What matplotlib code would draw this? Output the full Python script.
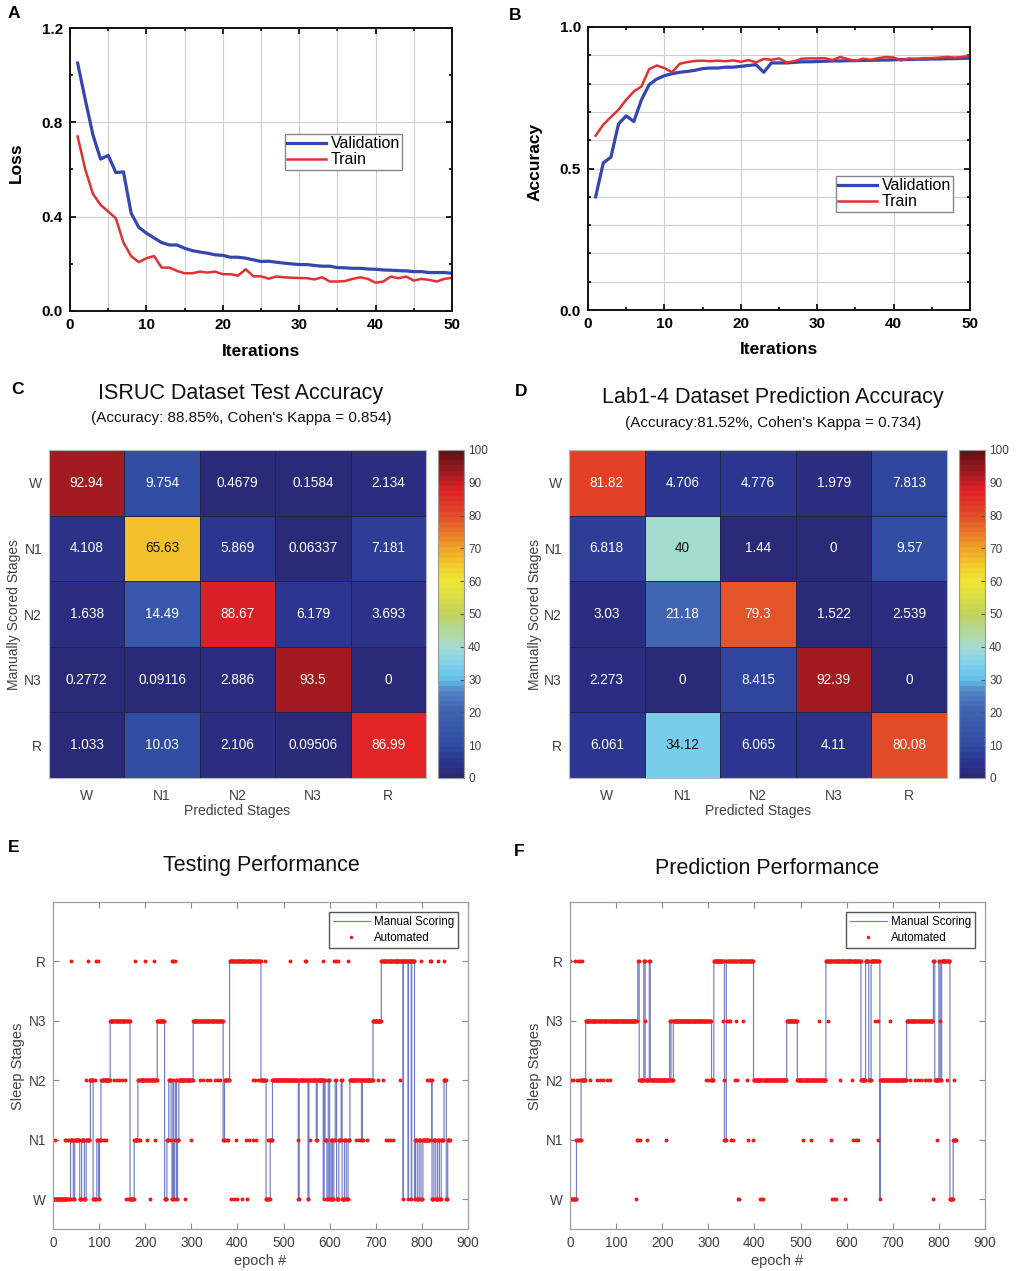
import numpy as np
import matplotlib
matplotlib.use("Agg")
import matplotlib.pyplot as plt
from matplotlib.colors import LinearSegmentedColormap
from matplotlib.ticker import MultipleLocator, FormatStrFormatter

plt.rcParams['font.family'] = ['Liberation Sans', 'DejaVu Sans']

FIG_W, FIG_H, DPI = 1016, 1271, 100

# ---------------- training curves (per iteration) ----------------
loss_val = [1.051, 0.896, 0.747, 0.644, 0.660, 0.587, 0.590, 0.415, 0.355, 0.330,
            0.310, 0.290, 0.280, 0.280, 0.266, 0.256, 0.250, 0.245, 0.238, 0.236,
            0.228, 0.228, 0.224, 0.217, 0.210, 0.211, 0.207, 0.203, 0.200, 0.197,
            0.197, 0.193, 0.190, 0.190, 0.184, 0.183, 0.181, 0.181, 0.178, 0.177,
            0.174, 0.173, 0.171, 0.170, 0.167, 0.167, 0.163, 0.163, 0.163, 0.160]
loss_train = [0.740, 0.600, 0.497, 0.450, 0.422, 0.393, 0.290, 0.233, 0.207, 0.224,
              0.233, 0.184, 0.184, 0.170, 0.160, 0.160, 0.167, 0.163, 0.167, 0.156,
              0.156, 0.150, 0.177, 0.147, 0.147, 0.137, 0.146, 0.143, 0.141, 0.140,
              0.139, 0.134, 0.143, 0.125, 0.125, 0.127, 0.136, 0.143, 0.136, 0.120,
              0.125, 0.146, 0.139, 0.146, 0.129, 0.136, 0.132, 0.125, 0.136, 0.141]
acc_val = [0.400, 0.520, 0.540, 0.658, 0.686, 0.666, 0.743, 0.796, 0.816, 0.828,
           0.835, 0.840, 0.843, 0.847, 0.853, 0.855, 0.855, 0.858, 0.858, 0.861,
           0.864, 0.867, 0.840, 0.873, 0.873, 0.873, 0.875, 0.877, 0.877, 0.878,
           0.879, 0.880, 0.880, 0.881, 0.881, 0.882, 0.882, 0.883, 0.883, 0.884,
           0.885, 0.885, 0.886, 0.886, 0.887, 0.887, 0.888, 0.888, 0.889, 0.890]
acc_train = [0.616, 0.655, 0.682, 0.708, 0.743, 0.772, 0.790, 0.851, 0.864, 0.855,
             0.840, 0.870, 0.876, 0.880, 0.881, 0.879, 0.881, 0.879, 0.882, 0.877,
             0.883, 0.875, 0.887, 0.884, 0.889, 0.875, 0.879, 0.888, 0.889, 0.889,
             0.890, 0.883, 0.894, 0.887, 0.880, 0.888, 0.884, 0.890, 0.894, 0.892,
             0.882, 0.889, 0.887, 0.890, 0.890, 0.892, 0.894, 0.892, 0.894, 0.899]

# ---------------- confusion matrices (%) ----------------
stages = ['W', 'N1', 'N2', 'N3', 'R']
isruc_cm = [[92.94, 9.754, 0.4679, 0.1584, 2.134],
            [4.108, 65.63, 5.869, 0.06337, 7.181],
            [1.638, 14.49, 88.67, 6.179, 3.693],
            [0.2772, 0.09116, 2.886, 93.5, 0],
            [1.033, 10.03, 2.106, 0.09506, 86.99]]
lab_cm = [[81.82, 4.706, 4.776, 1.979, 7.813],
          [6.818, 40, 1.44, 0, 9.57],
          [3.03, 21.18, 79.3, 1.522, 2.539],
          [2.273, 0, 8.415, 92.39, 0],
          [6.061, 34.12, 6.065, 4.11, 80.08]]

# ---------------- hypnograms: (start epoch, stage) change points ----------------
test_n_epochs = 861
test_manual = [(0, 'W'), (38, 'N1'), (44, 'W'), (47, 'N1'), (58, 'W'), (62, 'N1'), (68, 'W'),
               (72, 'N1'), (81, 'N2'), (87, 'W'), (95, 'N1'), (99, 'W'), (101, 'N1'), (104, 'N2'),
               (124, 'N3'), (167, 'W'), (176, 'N1'), (184, 'N2'), (226, 'N3'), (242, 'W'),
               (247, 'N1'), (251, 'N2'), (256, 'N1'), (258, 'W'), (260, 'N2'), (262, 'W'),
               (264, 'N1'), (266, 'N2'), (268, 'W'), (270, 'N1'), (273, 'N2'), (304, 'N3'),
               (369, 'N1'), (372, 'N2'), (383, 'R'), (451, 'N2'), (462, 'W'), (471, 'N1'),
               (476, 'N2'), (532, 'W'), (534, 'N2'), (553, 'W'), (555, 'N2'), (571, 'N1'),
               (573, 'N2'), (586, 'W'), (588, 'N2'), (590, 'N1'), (594, 'W'), (597, 'N2'),
               (600, 'W'), (603, 'N1'), (606, 'W'), (609, 'N1'), (612, 'N2'), (615, 'W'),
               (620, 'N1'), (625, 'N2'), (627, 'W'), (632, 'N1'), (636, 'W'), (640, 'N1'),
               (644, 'N2'), (669, 'N1'), (671, 'N2'), (694, 'N3'), (712, 'R'), (759, 'W'),
               (760, 'R'), (770, 'W'), (771, 'R'), (777, 'W'), (778, 'R'), (784, 'W'),
               (786, 'N1'), (790, 'W'), (794, 'N1'), (798, 'W'), (802, 'N1'), (821, 'N2'),
               (822, 'W'), (826, 'N1'), (830, 'W'), (834, 'N1'), (838, 'W'), (842, 'N1'),
               (848, 'N2'), (853, 'W'), (856, 'N1')]
# epochs where the automated scorer disagrees with the manual score
test_auto_diff = [(38, 'R'), (76, 'R'), (94, 'R'), (97, 'R'), (177, 'R'), (199, 'R'), (219, 'R'),
                  (257, 'R'), (261, 'R'), (264, 'R'), (459, 'R'), (513, 'R'), (546, 'R'), (549, 'R'),
                  (586, 'R'), (610, 'R'), (614, 'R'), (618, 'R'), (640, 'R'), (799, 'R'),
                  (817, 'R'), (820, 'R'), (835, 'R'), (847, 'R'),
                  (71, 'N2'), (80, 'N2'), (84, 'N2'), (90, 'N2'), (132, 'N2'), (138, 'N2'),
                  (144, 'N2'), (150, 'N2'), (156, 'N2'), (318, 'N2'), (326, 'N2'), (333, 'N2'),
                  (340, 'N2'), (352, 'N2'), (358, 'N2'), (362, 'N2'), (434, 'N2'), (438, 'N2'),
                  (444, 'N2'), (448, 'N2'), (705, 'N2'), (716, 'N2'), (752, 'N2'), (810, 'N2'),
                  (815, 'N2'), (818, 'N2'),
                  (4, 'N1'), (25, 'N1'), (28, 'N1'), (32, 'N1'), (35, 'N1'), (105, 'N1'),
                  (110, 'N1'), (116, 'N1'), (186, 'N1'), (188, 'N1'), (203, 'N1'), (221, 'N1'),
                  (300, 'N1'), (374, 'N1'), (377, 'N1'), (380, 'N1'), (397, 'N1'), (419, 'N1'),
                  (426, 'N1'), (433, 'N1'), (441, 'N1'), (466, 'N1'), (469, 'N1'), (531, 'N1'),
                  (557, 'N1'), (658, 'N1'), (664, 'N1'), (672, 'N1'), (680, 'N1'), (723, 'N1'),
                  (727, 'N1'), (731, 'N1'), (737, 'N1'),
                  (159, 'W'), (163, 'W'), (210, 'W'), (286, 'W'), (385, 'W'), (393, 'W'),
                  (400, 'W'), (410, 'W'), (420, 'W')]

pred_n_epochs = 838
pred_manual = [(0, 'W'), (14, 'N1'), (24, 'N2'), (34, 'N3'), (147, 'R'), (150, 'N2'), (160, 'R'),
               (163, 'N2'), (172, 'R'), (174, 'N2'), (216, 'N3'), (219, 'N2'), (224, 'N3'),
               (307, 'N2'), (312, 'R'), (335, 'N1'), (339, 'R'), (398, 'N2'), (470, 'N3'),
               (493, 'N2'), (555, 'R'), (631, 'N2'), (641, 'R'), (648, 'N2'), (653, 'R'),
               (672, 'W'), (673, 'N2'), (730, 'N3'), (788, 'R'), (791, 'N2'), (800, 'R'),
               (803, 'N2'), (806, 'R'), (824, 'W'), (831, 'N1')]
pred_auto_diff = [(0, 'R'), (11, 'R'), (18, 'R'), (22, 'R'), (25, 'R'),
                  (2, 'N2'), (6, 'N2'), (16, 'N2'), (20, 'N2'), (43, 'N2'), (58, 'N2'),
                  (65, 'N2'), (72, 'N2'), (80, 'N2'), (87, 'N2'), (296, 'N2'), (300, 'N2'),
                  (305, 'N2'), (333, 'N2'), (358, 'N2'), (363, 'N2'), (383, 'N2'), (585, 'N2'),
                  (611, 'N2'), (737, 'N2'), (748, 'N2'), (755, 'N2'), (762, 'N2'), (770, 'N2'),
                  (776, 'N2'), (781, 'N2'), (817, 'N2'), (832, 'N2'),
                  (163, 'N3'), (331, 'N3'), (340, 'N3'), (344, 'N3'), (347, 'N3'), (361, 'N3'),
                  (376, 'N3'), (539, 'N3'), (560, 'N3'), (661, 'N3'), (668, 'N3'), (694, 'N3'),
                  (802, 'N3'),
                  (145, 'N1'), (148, 'N1'), (152, 'N1'), (166, 'N1'), (208, 'N1'), (350, 'N1'),
                  (354, 'N1'), (387, 'N1'), (396, 'N1'), (505, 'N1'), (523, 'N1'), (566, 'N1'),
                  (614, 'N1'), (620, 'N1'), (625, 'N1'), (669, 'N1'), (795, 'N1'), (835, 'N1'),
                  (144, 'W'), (365, 'W'), (367, 'W'), (412, 'W'), (416, 'W'), (419, 'W'),
                  (568, 'W'), (572, 'W'), (577, 'W'), (596, 'W'), (787, 'W')]

BLUE = '#3446b0'
RED = '#e03234'
GRID = '#cfcfcf'
GRAY_TXT = '#404040'

fig = plt.figure(figsize=(FIG_W / DPI, FIG_H / DPI), dpi=DPI)


def px_axes(left, top, right, bottom):
    return fig.add_axes([left / FIG_W, 1 - bottom / FIG_H,
                         (right - left) / FIG_W, (bottom - top) / FIG_H])


def fig_text(x, y, s, **kw):
    return fig.text(x / FIG_W, 1 - y / FIG_H, s, **kw)


# ---------------- A / B: training curves ----------------
def style_curve_axes(ax):
    for sp in ax.spines.values():
        sp.set_linewidth(1.4)
        sp.set_color('#111111')
    ax.tick_params(which='both', direction='in', top=True, right=True, width=1.2)
    ax.tick_params(which='major', length=4.5, pad=5, labelsize=11)
    ax.tick_params(which='minor', length=2.5)
    for lab in ax.get_xticklabels() + ax.get_yticklabels():
        lab.set_fontweight('bold')
    ax.set_axisbelow(True)


iters = np.arange(1, len(loss_val) + 1)

axA = px_axes(70, 28, 452, 311)
axA.plot(iters, loss_val, color=BLUE, lw=2.3, label='Validation')
axA.plot(iters, loss_train, color=RED, lw=1.8, label='Train')
axA.set_xlim(0, 50)
axA.set_ylim(0, 1.2)
axA.xaxis.set_major_locator(MultipleLocator(10))
axA.xaxis.set_minor_locator(MultipleLocator(5))
axA.yaxis.set_major_locator(MultipleLocator(0.4))
axA.yaxis.set_minor_locator(MultipleLocator(0.2))
axA.yaxis.set_major_formatter(FormatStrFormatter('%.1f'))
axA.grid(which='both', axis='x', color=GRID, lw=0.8)
axA.grid(which='major', axis='y', color=GRID, lw=0.8)
style_curve_axes(axA)
axA.legend(loc='upper left', bbox_to_anchor=(285 / FIG_W, 1 - 134 / FIG_H),
           bbox_transform=fig.transFigure, borderaxespad=0, fontsize=11.5,
           handlelength=2.4, handletextpad=0.3, borderpad=0.15, labelspacing=0.05,
           fancybox=False, edgecolor='#888888', framealpha=1)
fig_text(16, 163, 'Loss', rotation=90, ha='center', va='center', fontsize=12.5, fontweight='bold')
fig_text(261, 351, 'Iterations', ha='center', va='center', fontsize=12.5, fontweight='bold')

axB = px_axes(588, 27, 970, 310)
axB.plot(iters, acc_val, color=BLUE, lw=2.3, label='Validation')
axB.plot(iters, acc_train, color=RED, lw=1.8, label='Train')
axB.set_xlim(0, 50)
axB.set_ylim(0, 1.0)
axB.xaxis.set_major_locator(MultipleLocator(10))
axB.xaxis.set_minor_locator(MultipleLocator(5))
axB.yaxis.set_major_locator(MultipleLocator(0.5))
axB.yaxis.set_minor_locator(MultipleLocator(0.1))
axB.yaxis.set_major_formatter(FormatStrFormatter('%.1f'))
axB.grid(which='major', axis='x', color=GRID, lw=0.8)
axB.grid(which='both', axis='y', color=GRID, lw=0.8)
style_curve_axes(axB)
axB.legend(loc='upper left', bbox_to_anchor=(836 / FIG_W, 1 - 176 / FIG_H),
           bbox_transform=fig.transFigure, borderaxespad=0, fontsize=11.5,
           handlelength=2.4, handletextpad=0.3, borderpad=0.15, labelspacing=0.05,
           fancybox=False, edgecolor='#888888', framealpha=1)
fig_text(535, 162, 'Accuracy', rotation=90, ha='center', va='center', fontsize=12.5, fontweight='bold')
fig_text(779, 350, 'Iterations', ha='center', va='center', fontsize=12.5, fontweight='bold')

# ---------------- C / D: confusion matrices ----------------
cm_anchors = [
    (0, (42, 42, 120)), (5, (44, 55, 145)), (10, (50, 78, 165)), (20, (62, 98, 176)),
    (26, (80, 130, 195)), (30, (100, 195, 235)), (35, (130, 210, 235)), (40, (166, 220, 205)),
    (50, (192, 210, 92)), (60, (240, 230, 50)), (65, (242, 205, 45)), (70, (240, 165, 40)),
    (80, (226, 80, 40)), (88, (226, 34, 40)), (95, (145, 25, 30)), (100, (105, 15, 20))]
stage_cmap = LinearSegmentedColormap.from_list(
    'stage_map', [(v / 100, tuple(c / 255 for c in rgb)) for v, rgb in cm_anchors], N=64)


def draw_confusion(box, cbox, data, title, subtitle, title_x, title_y, sub_y, ylabel_x):
    ax = px_axes(*box)
    arr = np.array(data, dtype=float)
    mesh = ax.pcolormesh(arr, cmap=stage_cmap, vmin=0, vmax=100,
                         edgecolors='#23244e', linewidth=0.6)
    ax.set_xlim(0, 5)
    ax.set_ylim(5, 0)
    ax.set_xticks(np.arange(5) + 0.5)
    ax.set_yticks(np.arange(5) + 0.5)
    ax.set_xticklabels(stages)
    ax.set_yticklabels(stages)
    ax.tick_params(length=0, labelsize=10, labelcolor=GRAY_TXT)
    ax.tick_params(axis='x', pad=8)
    ax.tick_params(axis='y', pad=5)
    for sp in ax.spines.values():
        sp.set_color('#b8b8b8')
        sp.set_linewidth(0.8)
    for i in range(arr.shape[0]):
        for j in range(arr.shape[1]):
            r, g, b, _ = stage_cmap(arr[i, j] / 100)
            lum = 0.299 * r + 0.587 * g + 0.114 * b
            ax.text(j + 0.5, i + 0.5, f'{arr[i, j]:.4g}', ha='center', va='center',
                    fontsize=9.8, color='#111111' if lum > 0.55 else 'white')
    cax = px_axes(*cbox)
    cb = fig.colorbar(mesh, cax=cax, ticks=np.arange(0, 101, 10))
    cb.outline.set_edgecolor('#9a9a9a')
    cb.outline.set_linewidth(0.8)
    cax.tick_params(direction='in', length=3, color='#555555', labelsize=8.5,
                    labelcolor=GRAY_TXT, pad=3)
    cx = (box[0] + box[2]) / 2
    fig_text(title_x, title_y, title, ha='center', va='center', fontsize=15.5, color='#111111')
    fig_text(title_x, sub_y, subtitle, ha='center', va='center', fontsize=11, color='#111111')
    fig_text(cx, 811, 'Predicted Stages', ha='center', va='center', fontsize=10, color=GRAY_TXT)
    fig_text(ylabel_x, (box[1] + box[3]) / 2, 'Manually Scored Stages', rotation=90,
             ha='center', va='center', fontsize=10, color=GRAY_TXT)


draw_confusion((49, 450, 426, 778), (438, 450, 464, 778), isruc_cm,
               'ISRUC Dataset Test Accuracy', "(Accuracy: 88.85%, Cohen's Kappa = 0.854)",
               241, 393, 418, 14)
draw_confusion((569, 450, 947, 778), (959, 450, 985, 778), lab_cm,
               'Lab1-4 Dataset Prediction Accuracy', "(Accuracy:81.52%, Cohen's Kappa = 0.734)",
               773, 397, 423, 535)

# ---------------- E / F: hypnograms ----------------
stage_idx = {s: i for i, s in enumerate(stages)}


def expand(changes, n_epochs):
    y = np.empty(n_epochs)
    for k, (start, st) in enumerate(changes):
        end = changes[k + 1][0] if k + 1 < len(changes) else n_epochs
        y[start:end] = stage_idx[st]
    return y


def draw_hypnogram(box, changes, diffs, n_epochs, title, title_x, title_y, ylabel_x, legend_xy):
    ax = px_axes(*box)
    epochs = np.arange(n_epochs)
    manual = expand(changes, n_epochs)
    auto = manual.copy()
    for ep, st in diffs:
        auto[ep] = stage_idx[st]
    ax.plot(epochs, manual, drawstyle='steps-post', color='#4250b8', lw=0.85, alpha=0.75,
            label='Manual Scoring')
    ax.plot(epochs, auto, ls='none', marker='o', ms=2.8, mew=0, color='#f01818',
            label='Automated')
    ax.set_xlim(0, 900)
    ax.set_ylim(-0.5, 5)
    ax.xaxis.set_major_locator(MultipleLocator(100))
    ax.set_yticks(range(5))
    ax.set_yticklabels(stages)
    ax.tick_params(direction='in', top=True, right=True, length=4, color='#8a8a8a',
                   labelsize=9.8, labelcolor=GRAY_TXT, pad=5)
    for sp in ax.spines.values():
        sp.set_color('#a0a0a0')
        sp.set_linewidth(0.9)
    ax.legend(loc='upper left', bbox_to_anchor=(legend_xy[0] / FIG_W, 1 - legend_xy[1] / FIG_H),
              bbox_transform=fig.transFigure, borderaxespad=0, fontsize=8.3,
              handlelength=3.2, handletextpad=0.35, borderpad=0.35, labelspacing=0.35,
              fancybox=False, edgecolor='#555555', framealpha=1, numpoints=1, markerscale=0.9)
    fig_text(title_x, title_y, title, ha='center', va='center', fontsize=15.5, color='#111111')
    fig_text((box[0] + box[2]) / 2, 1261, 'epoch #', ha='center', va='center',
             fontsize=10.5, color=GRAY_TXT)
    fig_text(ylabel_x, 1066, 'Sleep Stages', rotation=90, ha='center', va='center',
             fontsize=10.5, color=GRAY_TXT)


draw_hypnogram((53, 902, 468, 1229), test_manual, test_auto_diff, test_n_epochs,
               'Testing Performance', 261, 865, 18, (329, 912))
draw_hypnogram((570, 902, 985, 1229), pred_manual, pred_auto_diff, pred_n_epochs,
               'Prediction Performance', 767, 869, 535, (846, 912))

# ---------------- panel letters ----------------
for letter, (x, y) in {'A': (14, 14), 'B': (515, 16), 'C': (17, 389),
                       'D': (521, 392), 'E': (14, 847), 'F': (519, 851)}.items():
    fig_text(x, y, letter, ha='center', va='center', fontsize=12.5, fontweight='bold')

fig.savefig('out.png', dpi=DPI)
